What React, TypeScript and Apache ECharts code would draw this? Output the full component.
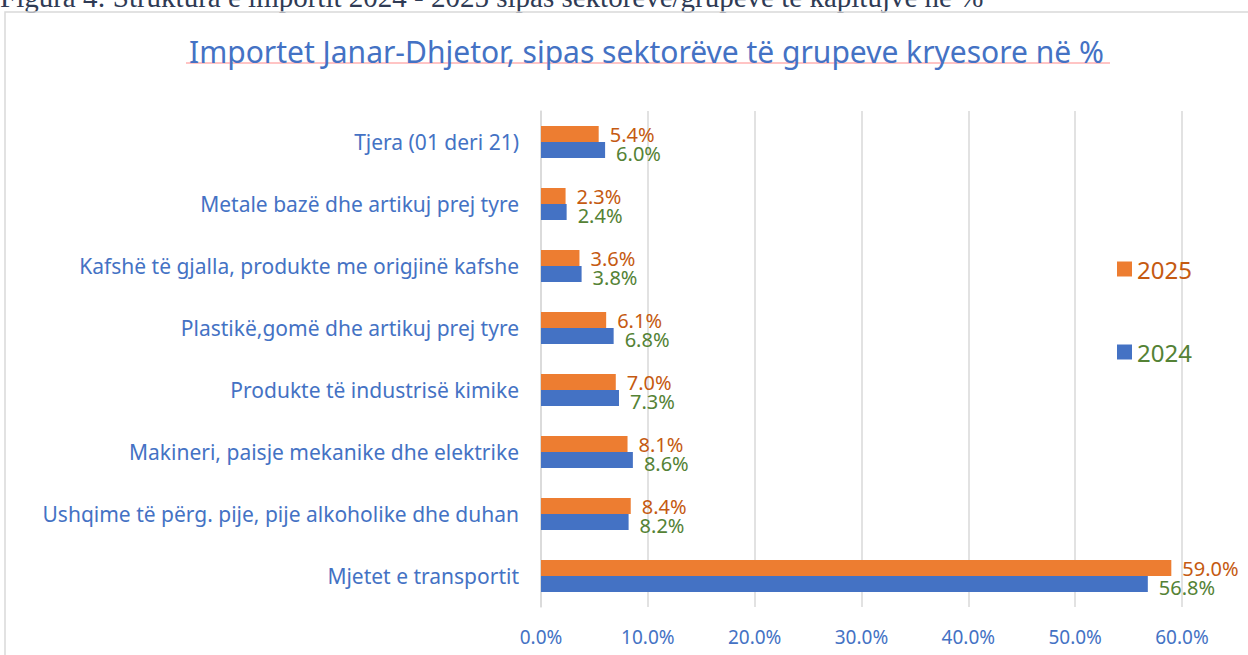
import React, { useEffect, useRef } from "react";
import * as echarts from "echarts";

const categories = [
  "Mjetet e transportit",
  "Ushqime të përg. pije, pije alkoholike dhe duhan",
  "Makineri, paisje mekanike dhe elektrike",
  "Produkte të industrisë kimike",
  "Plastikë,gomë dhe artikuj prej tyre",
  "Kafshë të gjalla, produkte me origjinë kafshe",
  "Metale bazë dhe artikuj prej tyre",
  "Tjera (01 deri 21)",
];
const values2024 = [56.8, 8.2, 8.6, 7.3, 6.8, 3.8, 2.4, 6.0];
const values2025 = [59.0, 8.4, 8.1, 7.0, 6.1, 3.6, 2.3, 5.4];

const titleText = "Importet Janar-Dhjetor, sipas sektorëve të grupeve kryesore në %";
const captionText = "Figura 4: Struktura e importit 2024 - 2025 sipas sektorëve/grupeve të kapitujve në %";

const FONT = "'Noto Sans', 'Open Sans', sans-serif";

export default function App() {
  const ref = useRef<HTMLDivElement>(null);
  useEffect(() => {
    if (!ref.current) return;
    const chart = echarts.init(ref.current, null, { renderer: "svg" });
    chart.setOption({
      animation: false,
      backgroundColor: "#ffffff",
      graphic: [
        {
          type: "text",
          left: 0,
          top: -18,
          style: {
            text: captionText,
            font: "29px 'Liberation Serif', 'DejaVu Serif', serif",
            fill: "#2f3b55",
          },
        },
        {
          type: "rect",
          shape: { x: 5, y: 12, width: 1300, height: 700 },
          style: { fill: "none", stroke: "#d9d9d9", lineWidth: 1.5 },
          silent: true,
        },
        {
          type: "line",
          shape: { x1: 186, y1: 63, x2: 1110, y2: 63 },
          style: { stroke: "#ff8a8a", lineWidth: 1.2 },
        },
      ],
      title: {
        text: titleText,
        left: 184,
        top: 31,
        textStyle: {
          fontFamily: FONT,
          fontSize: 30,
          fontWeight: "normal",
          color: "#4472c4",
        },
      },
      legend: {
        orient: "vertical",
        left: 1112,
        top: 252,
        itemGap: 59,
        itemWidth: 15,
        itemHeight: 15,
        icon: "rect",
        data: [
          { name: "2025", textStyle: { color: "#c55a11" } },
          { name: "2024", textStyle: { color: "#548235" } },
        ],
        textStyle: { fontFamily: FONT, fontSize: 24 },
      },
      grid: { left: 541, right: 66, top: 111, bottom: 48, containLabel: false },
      xAxis: {
        type: "value",
        min: 0,
        max: 60,
        interval: 10,
        axisLabel: {
          formatter: (v: number) => v.toFixed(1) + "%",
          color: "#4472c4",
          fontFamily: FONT,
          fontSize: 19,
          margin: 20,
        },
        splitLine: { lineStyle: { color: "#d9d9d9", width: 1.5 } },
        axisLine: { show: false },
        axisTick: { show: false },
      },
      yAxis: {
        type: "category",
        data: categories,
        axisLabel: {
          color: "#4472c4",
          fontFamily: FONT,
          fontSize: 21,
          margin: 22,
        },
        axisLine: { show: true, lineStyle: { color: "#d9d9d9", width: 1.5 } },
        axisTick: { show: false },
      },
      series: [
        {
          name: "2025",
          type: "bar",
          data: values2025,
          barWidth: 16,
          barGap: "0%",
          itemStyle: { color: "#ed7d31" },
          label: {
            show: true,
            position: "right",
            distance: 11,
            offset: [0, 0],
            formatter: (p: any) => p.value.toFixed(1) + "%",
            color: "#c55a11",
            fontFamily: FONT,
            fontSize: 20,
            lineHeight: 16,
          },
        },
        {
          name: "2024",
          type: "bar",
          data: values2024,
          barWidth: 16,
          barGap: "0%",
          itemStyle: { color: "#4472c4" },
          label: {
            show: true,
            position: "right",
            distance: 11,
            offset: [0, 3],
            formatter: (p: any) => p.value.toFixed(1) + "%",
            color: "#548235",
            fontFamily: FONT,
            fontSize: 20,
            lineHeight: 16,
          },
        },
      ],
    });
    return () => chart.dispose();
  }, []);
  return (
    <div
      ref={ref}
      style={{ position: "fixed", left: 0, top: 0, width: 1248, height: 655 }}
    />
  );
}
